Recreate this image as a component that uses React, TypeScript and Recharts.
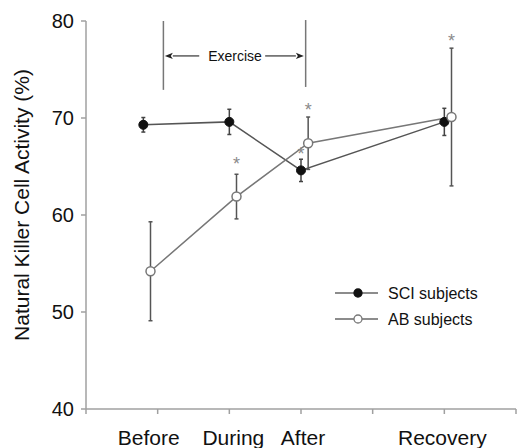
import React from "react";
import {
  ComposedChart,
  Line,
  Scatter,
  ErrorBar,
  XAxis,
  YAxis,
  ReferenceLine,
  ReferenceDot,
  Legend,
  Label,
} from "recharts";

// x positions are on a 0..6 numeric axis, each group nudged a bit like the original figure
const SCI_X = [0.8, 2.0, 3.0, 5.0];
const SCI_MEAN = [69.3, 69.6, 64.6, 69.6];
const SCI_ERR = [0.75, 1.3, 1.15, 1.4];

const AB_X = [0.9, 2.1, 3.1, 5.1];
const AB_MEAN = [54.2, 61.9, 67.4, 70.1];
const AB_ERR = [5.1, 2.3, 2.7, 7.1];

// significance asterisks
const STAR_X = [2.1, 3.0, 3.1, 5.1];
const STAR_Y = [65.7, 66.7, 71.2, 78.4];

const X_TICKS = [0, 1, 2, 3, 4, 5, 6];
const X_TICK_LABELS = ["", "Before", "During", "After", "", "Recovery", ""];
const Y_TICKS = [40, 50, 60, 70, 80];

const SERIES_NAMES = ["SCI subjects", "AB subjects"];
const EXERCISE_LABEL = "Exercise";
const EXERCISE_START = 1.08;
const EXERCISE_END = 3.065;
const EXERCISE_Y = 76.4;

const sciData = SCI_X.map((x, i) => ({ x, y: SCI_MEAN[i], err: SCI_ERR[i] }));
const abData = AB_X.map((x, i) => ({ x, y: AB_MEAN[i], err: AB_ERR[i] }));
const starData = STAR_X.map((x, i) => ({ x, y: STAR_Y[i] }));

const FONT = "'Liberation Sans', Arial, Helvetica, sans-serif";
const AXIS_GREY = "#a0a0a0";
const LABEL_DX = [0, -9, 4, 2, 0, -2, 0];

function XTick(props: any) {
  const { x, y, payload, index } = props;
  const i = X_TICKS.indexOf(payload.value);
  const text = X_TICK_LABELS[i] ?? "";
  if (!text) return null;
  return (
    <text x={x + (LABEL_DX[i] ?? 0)} y={y} dy="0.71em" textAnchor="middle" fontSize={21} fill="#111" fontFamily={FONT}>
      {text}
    </text>
  );
}

function Arrow(props: any) {
  const { x1, y1, x2, y2 } = props;
  if (x1 == null) return null;
  const dir = x2 > x1 ? 1 : -1;
  const head = 8;
  return (
    <g>
      <line x1={x1} y1={y1} x2={x2 - dir * head} y2={y2} stroke="#444" strokeWidth={1.3} />
      <polygon
        points={`${x2},${y2} ${x2 - dir * head},${y2 - 3.2} ${x2 - dir * 6},${y2} ${x2 - dir * head},${y2 + 3.2}`}
        fill="#222"
      />
    </g>
  );
}

function Star(props: any) {
  const { cx, cy } = props;
  return (
    <text x={cx} y={cy + 4} textAnchor="middle" dominantBaseline="central" fontSize={18} fill="#8a8a8a" fontFamily={FONT}>
      *
    </text>
  );
}

function LegendBox() {
  const rows = [
    { y: 10, fill: "#111", stroke: "#111" },
    { y: 36, fill: "#fff", stroke: "#777" },
  ];
  return (
    <svg width={180} height={50}>
      {rows.map((r, i) => (
        <g key={i}>
          <line x1={0} y1={r.y} x2={43} y2={r.y} stroke="#666" strokeWidth={1.5} />
          <circle cx={23} cy={r.y} r={4} fill={r.fill} stroke={r.stroke} strokeWidth={1.3} />
          <text x={53} y={r.y} dominantBaseline="central" fontSize={16} fill="#111" fontFamily={FONT}>
            {SERIES_NAMES[i]}
          </text>
        </g>
      ))}
    </svg>
  );
}

function YLabel(props: any) {
  const { viewBox } = props;
  const cx = viewBox.x + 21;
  const cy = viewBox.y + viewBox.height / 2 - 10;
  return (
    <text
      x={cx}
      y={cy}
      transform={`rotate(-90, ${cx}, ${cy})`}
      textAnchor="middle"
      dominantBaseline="central"
      fontSize={21}
      fill="#111"
      fontFamily={FONT}
    >
      Natural Killer Cell Activity (%)
    </text>
  );
}

export default function App() {
  return (
    <div style={{ position: "absolute", left: 0, top: 0, background: "#fff" }}>
      <ComposedChart width={517} height={448} margin={{ top: 21, right: 1, left: 0, bottom: 0 }}>
        <XAxis
          dataKey="x"
          type="number"
          domain={[0, 6]}
          ticks={X_TICKS}
          interval={0}
          height={39}
          stroke={AXIS_GREY}
          strokeWidth={1.5}
          tickSize={5}
          tickMargin={16}
          tick={<XTick />}
        />
        <YAxis
          dataKey="y"
          type="number"
          domain={[40, 80]}
          ticks={Y_TICKS}
          interval={0}
          width={86}
          stroke={AXIS_GREY}
          strokeWidth={1.5}
          tickSize={5}
          tickMargin={7}
          tick={{ fontSize: 20, fill: "#111", fontFamily: FONT }}
        >
          <Label content={<YLabel />} />
        </YAxis>

        {/* exercise bracket */}
        <ReferenceLine
          segment={[{ x: EXERCISE_START, y: 72.9 }, { x: EXERCISE_START, y: 80 }]}
          stroke="#777"
          strokeWidth={1.5}
          ifOverflow="visible"
        />
        <ReferenceLine
          segment={[{ x: EXERCISE_END, y: 73.2 }, { x: EXERCISE_END, y: 80.1 }]}
          stroke="#777"
          strokeWidth={1.5}
          ifOverflow="visible"
        />
        <ReferenceLine
          segment={[{ x: 1.58, y: EXERCISE_Y }, { x: 1.1, y: EXERCISE_Y }]}
          shape={<Arrow />}
          ifOverflow="visible"
        />
        <ReferenceLine
          segment={[{ x: 2.5, y: EXERCISE_Y }, { x: 3.04, y: EXERCISE_Y }]}
          shape={<Arrow />}
          ifOverflow="visible"
        />
        <ReferenceDot
          x={2.08}
          y={EXERCISE_Y}
          r={0}
          fill="none"
          stroke="none"
          label={{ value: EXERCISE_LABEL, position: "center", fontSize: 14, fill: "#111", fontFamily: FONT }}
        />

        <Line
          data={sciData}
          dataKey="y"
          name={SERIES_NAMES[0]}
          stroke="#555"
          strokeWidth={1.5}
          dot={{ r: 4.5, fill: "#111", stroke: "#111", strokeWidth: 1 }}
          isAnimationActive={false}
        >
          <ErrorBar dataKey="err" width={2} stroke="#444" strokeWidth={1.5} />
        </Line>
        <Line
          data={abData}
          dataKey="y"
          name={SERIES_NAMES[1]}
          stroke="#777"
          strokeWidth={1.5}
          dot={{ r: 4.5, fill: "#fff", stroke: "#777", strokeWidth: 1.5 }}
          isAnimationActive={false}
        >
          <ErrorBar dataKey="err" width={2} stroke="#555" strokeWidth={1.5} />
        </Line>
        <Scatter data={starData} dataKey="y" shape={<Star />} isAnimationActive={false} legendType="none" />

        <Legend
          layout="horizontal"
          verticalAlign="middle"
          align="center"
          wrapperStyle={{ left: 335, top: 283, width: 180, height: 50 }}
          content={<LegendBox />}
        />
      </ComposedChart>
    </div>
  );
}
